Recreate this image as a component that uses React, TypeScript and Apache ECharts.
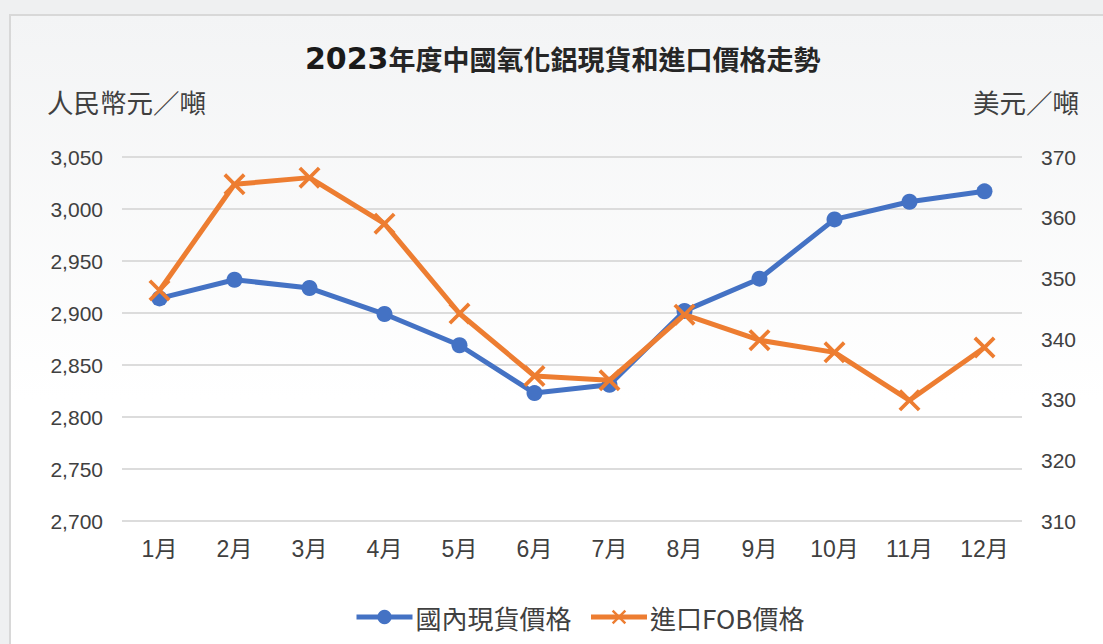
import React, { useEffect, useRef } from "react";
import * as echarts from "echarts";

const months = ["1月", "2月", "3月", "4月", "5月", "6月", "7月", "8月", "9月", "10月", "11月", "12月"];
const domesticSpot = [2914, 2932, 2924, 2899, 2869, 2823, 2831, 2902, 2933, 2990, 3007, 3017];
const importFob = [348, 365.5, 366.6, 359, 344.2, 333.9, 333.2, 344, 339.8, 337.8, 329.9, 338.6];
const seriesNames = ["國內現貨價格", "進口FOB價格"];
const titleYear = "2023";
const titleRest = "年度中國氧化鋁現貨和進口價格走勢";
const leftUnit = "人民幣元／噸";
const rightUnit = "美元／噸";

const CROSS = "path://M0,1.2L1.2,0L10,8.8L8.8,10Z M8.8,0L10,1.2L1.2,10L0,8.8Z";
const FONT = '"Liberation Sans", "Noto Sans CJK TC", sans-serif';
const CJK = '"Noto Sans CJK TC", "Liberation Sans", sans-serif';

export default function App() {
  const ref = useRef<HTMLDivElement>(null);
  useEffect(() => {
    if (!ref.current) return;
    const chart = echarts.init(ref.current, undefined, { renderer: "svg" });
    chart.setOption({
      animation: false,
      backgroundColor: "#eff0f1",
      graphic: [
        {
          type: "rect",
          z: -10,
          shape: { x: 10, y: 15, width: 1100, height: 640 },
          style: {
            fill: new echarts.graphic.LinearGradient(0, 0, 0, 1, [
              { offset: 0, color: "#f3f4f5" },
              { offset: 0.6, color: "#ffffff" },
              { offset: 1, color: "#ffffff" },
            ]),
            stroke: "#d8d8d8",
            lineWidth: 2,
          },
        },
        {
          type: "text",
          left: 305,
          top: 43,
          style: {
            text: "{y|" + titleYear + "}{r|" + titleRest + "}",
            rich: {
              y: { fontFamily: '"DejaVu Sans"', fontWeight: "bold", fontSize: 30, fill: "#1a1a1a" },
              r: { fontFamily: CJK, fontWeight: "bold", fontSize: 27, fill: "#262626" },
            },
          },
        },
        {
          type: "text",
          left: 47,
          top: 88,
          style: { text: leftUnit, font: "26.5px " + CJK, fill: "#404040" },
        },
        {
          type: "text",
          right: 24,
          top: 88,
          style: { text: rightUnit, font: "26.5px " + CJK, fill: "#404040" },
        },
      ],
      grid: { left: 122, right: 81, top: 157, bottom: 123, containLabel: false },
      legend: {
        bottom: 9,
        left: 349,
        itemWidth: 56,
        itemHeight: 18,
        itemGap: 17,
        data: seriesNames,
        lineStyle: { width: 5 },
        textStyle: { fontFamily: CJK, fontSize: 26, color: "#404040", padding: [0, 0, 0, -2] },
      },
      xAxis: {
        type: "category",
        data: months,
        boundaryGap: true,
        axisLine: { show: false },
        axisTick: { show: false },
        axisLabel: { fontFamily: FONT, fontSize: 23, color: "#404040", margin: 16 },
      },
      yAxis: [
        {
          type: "value",
          min: 2700,
          max: 3050,
          interval: 50,
          axisLine: { show: false },
          axisTick: { show: false },
          splitLine: { lineStyle: { color: "#dcdcdc", width: 2 } },
          axisLabel: {
            fontFamily: FONT,
            fontSize: 21,
            color: "#404040",
            margin: 19,
            formatter: (v: number) => v.toLocaleString("en-US"),
          },
        },
        {
          type: "value",
          min: 310,
          max: 370,
          interval: 10,
          axisLine: { show: false },
          axisTick: { show: false },
          splitLine: { show: false },
          axisLabel: { fontFamily: FONT, fontSize: 21, color: "#404040", margin: 19 },
        },
      ],
      series: [
        {
          name: seriesNames[0],
          type: "line",
          yAxisIndex: 0,
          data: domesticSpot,
          symbol: "circle",
          symbolSize: 16,
          color: "#4472c4",
          lineStyle: { width: 5, color: "#4472c4" },
          itemStyle: { color: "#4472c4" },
          z: 2,
        },
        {
          name: seriesNames[1],
          type: "line",
          yAxisIndex: 1,
          data: importFob,
          symbol: CROSS,
          symbolSize: 22,
          color: "#ed7d31",
          lineStyle: { width: 5, color: "#ed7d31" },
          itemStyle: { color: "#ed7d31" },
          z: 3,
        },
      ],
    });
    return () => chart.dispose();
  }, []);
  return (
    <div style={{ position: "fixed", left: 0, top: 0, width: 1103, height: 644 }}>
      <div ref={ref} style={{ width: 1103, height: 644 }} />
    </div>
  );
}
